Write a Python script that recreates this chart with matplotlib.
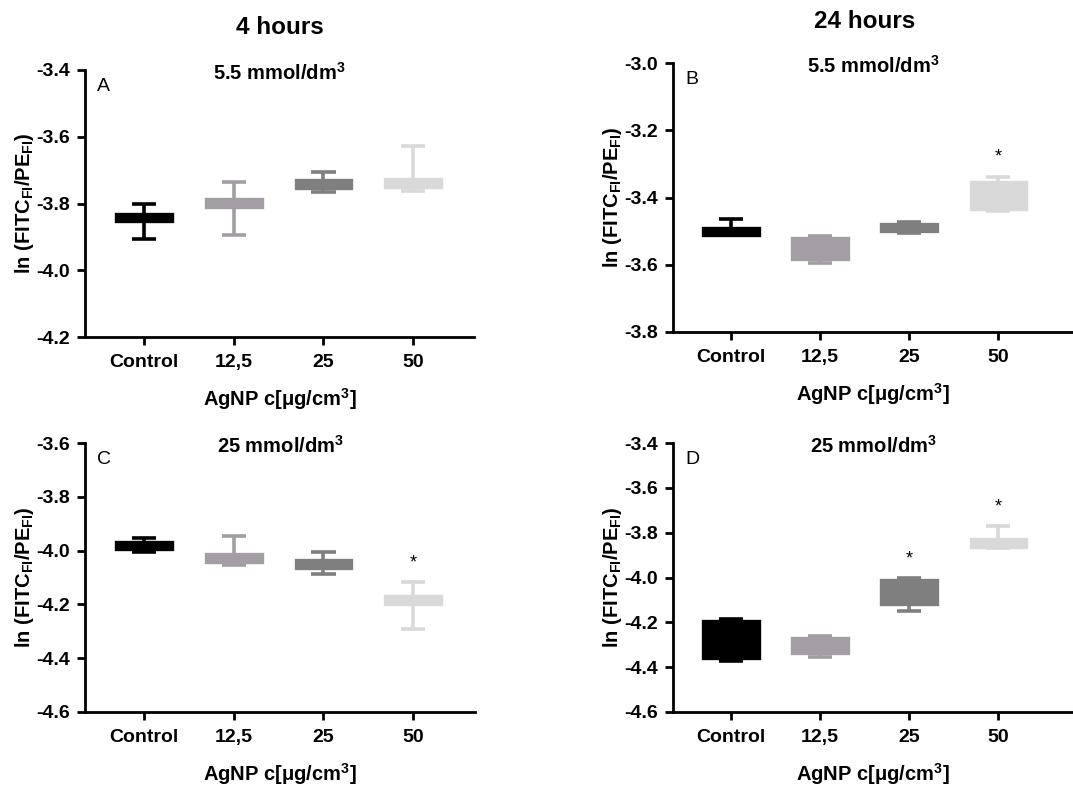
import matplotlib
matplotlib.use("Agg")
import matplotlib.pyplot as plt

plt.rcParams['font.family'] = ['Liberation Sans', 'DejaVu Sans']
plt.rcParams['mathtext.fontset'] = 'custom'
plt.rcParams['mathtext.rm'] = 'Liberation Sans'
plt.rcParams['mathtext.bf'] = 'Liberation Sans:bold'
plt.rcParams['mathtext.it'] = 'Liberation Sans:italic'
plt.rcParams['mathtext.default'] = 'bf'

groups = ['Control', '12,5', '25', '50']
colors = ['#000000', '#a29ea4', '#7f7f7f', '#d9d9d9']

# whisker low, q1, median, q3, whisker high for each group
# A: 4 h, 5.5 mmol/dm3
a_lo = [-3.905, -3.895, -3.767, -3.762]
a_q1 = [-3.852, -3.810, -3.753, -3.750]
a_med = [-3.840, -3.800, -3.742, -3.740]
a_q3 = [-3.830, -3.788, -3.730, -3.728]
a_hi = [-3.802, -3.735, -3.707, -3.627]
a_star = [False, False, False, False]

# B: 24 h, 5.5 mmol/dm3
b_lo = [-3.512, -3.596, -3.505, -3.441]
b_q1 = [-3.512, -3.584, -3.500, -3.434]
b_med = [-3.500, -3.550, -3.490, -3.390]
b_q3 = [-3.490, -3.521, -3.479, -3.353]
b_hi = [-3.464, -3.515, -3.472, -3.338]
b_star = [False, False, False, True]

# C: 4 h, 25 mmol/dm3
c_lo = [-4.005, -4.055, -4.086, -4.290]
c_q1 = [-3.994, -4.041, -4.065, -4.197]
c_med = [-3.980, -4.025, -4.050, -4.180]
c_q3 = [-3.968, -4.011, -4.036, -4.168]
c_hi = [-3.953, -3.947, -4.004, -4.118]
c_star = [False, False, False, True]

# D: 24 h, 25 mmol/dm3
d_lo = [-4.372, -4.354, -4.148, -3.868]
d_q1 = [-4.357, -4.339, -4.116, -3.862]
d_med = [-4.280, -4.300, -4.060, -3.845]
d_q3 = [-4.193, -4.272, -4.013, -3.828]
d_hi = [-4.184, -4.260, -4.004, -3.770]
d_star = [False, False, True, True]

fig = plt.figure(figsize=(10.73, 7.87), dpi=100)
W, H = 1073.0, 787.0


def make_ax(l, t, r, b):
    return fig.add_axes([l / W, 1 - b / H, (r - l) / W, (b - t) / H])


def panel(ax, lo, q1, med, q3, hi, star, ylim, yticks, xlim, letter, subtitle):
    stats = []
    for i in range(len(groups)):
        stats.append(dict(whislo=lo[i], q1=q1[i], med=med[i], q3=q3[i],
                          whishi=hi[i], fliers=[]))
    bp = ax.bxp(stats, positions=range(len(groups)), widths=0.62,
                patch_artist=True, showfliers=False, capwidths=0.27,
                manage_ticks=False)
    for i, c in enumerate(colors):
        bp['boxes'][i].set(facecolor=c, edgecolor=c, linewidth=2.4)
        bp['medians'][i].set(color=c, linewidth=2.4)
        for ln in bp['whiskers'][2 * i:2 * i + 2] + bp['caps'][2 * i:2 * i + 2]:
            ln.set(color=c, linewidth=2.6, solid_capstyle='butt')
        if star[i]:
            ax.annotate('*', (i, hi[i]), xytext=(0, 14), textcoords='offset points',
                        ha='center', va='center', fontsize=13)
    ax.set_xlim(*xlim)
    ax.set_ylim(*ylim)
    ax.set_yticks(yticks)
    ax.set_yticklabels(['%.1f' % v for v in yticks])
    ax.set_xticks(range(len(groups)))
    ax.set_xticklabels(groups)
    for s in ['top', 'right']:
        ax.spines[s].set_visible(False)
    for s in ['left', 'bottom']:
        ax.spines[s].set_linewidth(2.0)
    ax.tick_params(width=2.0, length=6, labelsize=14, pad=5)
    ax.tick_params(axis='x', pad=6)
    for lab in ax.get_xticklabels() + ax.get_yticklabels():
        lab.set_fontweight('bold')
    ax.set_xlabel('AgNP c[$\\mu$g/cm$^3$]', fontsize=14.5, fontweight='bold', labelpad=11)
    ax.set_ylabel('ln (FITC$_{FI}$/PE$_{FI}$)', fontsize=14.5, fontweight='bold', labelpad=0)
    ax.text(0.03, 0.94, letter, transform=ax.transAxes, fontsize=14, ha='left', va='center')
    ax.text(0.5, 0.99, subtitle, transform=ax.transAxes, fontsize=14.5, fontweight='bold',
            ha='center', va='center')


axA = make_ax(85, 70, 474, 337)
axB = make_ax(673, 63, 1073, 332)
axC = make_ax(85, 443, 475, 712)
axD = make_ax(673, 443, 1073, 712)

panel(axA, a_lo, a_q1, a_med, a_q3, a_hi, a_star, (-4.2, -3.4),
      [-4.2, -4.0, -3.8, -3.6, -3.4], (-0.66, 3.68), 'A', '5.5 mmol/dm$^3$')
panel(axB, b_lo, b_q1, b_med, b_q3, b_hi, b_star, (-3.8, -3.0),
      [-3.8, -3.6, -3.4, -3.2, -3.0], (-0.65, 3.84), 'B', '5.5 mmol/dm$^3$')
panel(axC, c_lo, c_q1, c_med, c_q3, c_hi, c_star, (-4.6, -3.6),
      [-4.6, -4.4, -4.2, -4.0, -3.8, -3.6], (-0.66, 3.69), 'C', '25 mmol/dm$^3$')
panel(axD, d_lo, d_q1, d_med, d_q3, d_hi, d_star, (-4.6, -3.4),
      [-4.6, -4.4, -4.2, -4.0, -3.8, -3.6, -3.4], (-0.65, 3.84), 'D', '25 mmol/dm$^3$')

fig.text(280 / W, 1 - 27 / H, '4 hours', fontsize=17.5, fontweight='bold', ha='center', va='center')
fig.text(865 / W, 1 - 22 / H, '24 hours', fontsize=17.5, fontweight='bold', ha='center', va='center')

fig.savefig('out.png', dpi=100)
